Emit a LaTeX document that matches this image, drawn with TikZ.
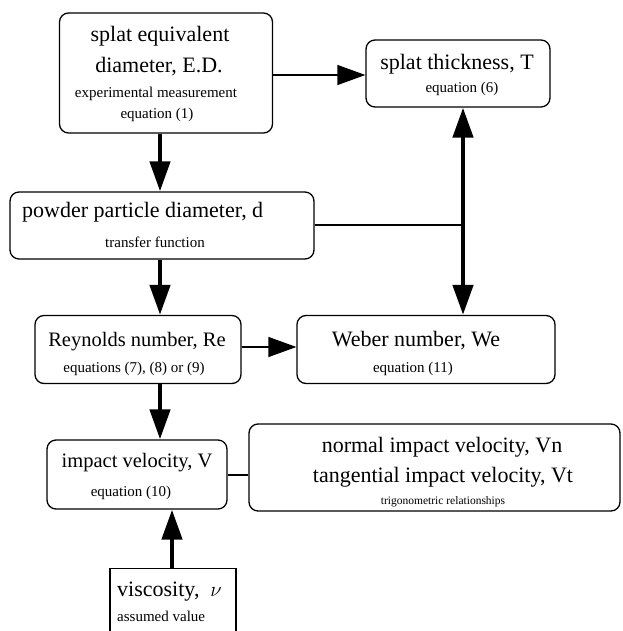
\documentclass[tikz,border=0pt]{standalone}
\usepackage{fontspec}
\setmainfont{Liberation Serif}
\usetikzlibrary{arrows.meta}
\begin{document}
\begin{tikzpicture}[x=1pt,y=1pt,
  box/.style={draw,line width=1.3pt,rounded corners=9pt,inner sep=0pt},
  sqbox/.style={draw,line width=1.3pt,inner sep=0pt},
  big/.style={anchor=base,inner sep=0pt,font=\fontsize{22}{26}\selectfont},
  mid/.style={anchor=base,inner sep=0pt,font=\fontsize{20.5}{24}\selectfont},
  small/.style={anchor=base,inner sep=0pt,font=\fontsize{15}{18}\selectfont},
  tiny/.style={anchor=base,inner sep=0pt,font=\fontsize{11.5}{14}\selectfont},
  thick arrow/.style={line width=4.5pt,-{Triangle[length=30pt,width=20pt]}},
  thick both/.style={line width=4.5pt,{Triangle[length=30pt,width=20pt]}-{Triangle[length=30pt,width=20pt]}},
  thin arrow/.style={line width=1.4pt,-{Triangle[length=28pt,width=20pt]}},
  thin line/.style={line width=1.4pt}]
\useasboundingbox (0,0) rectangle (622,-631);
\begin{scope}
\clip (0,0) rectangle (622,-631);
% boxes
\node[box,minimum width=213pt,minimum height=120pt] (b1) at (166,-73) {};
\node[box,minimum width=184pt,minimum height=67pt] (b2) at (458,-73.5) {};
\node[box,minimum width=304pt,minimum height=67pt] (b3) at (162,-225.5) {};
\node[box,minimum width=206pt,minimum height=68pt] (b4) at (138,-349.5) {};
\node[box,minimum width=258pt,minimum height=68pt] (b5) at (426,-349.5) {};
\node[box,minimum width=180pt,minimum height=69pt] (b6) at (137,-474.5) {};
\node[box,minimum width=371pt,minimum height=87pt] (b7) at (434.5,-467.5) {};
\node[sqbox,minimum width=126pt,minimum height=80pt,anchor=north] (b8) at (173,-568) {};
% texts
\node[big] (b1a) at (160,-42) {splat equivalent};
\node[big] (b1b) at (159,-73) {diameter, E.D.};
\node[small] (b1c) at (156,-98) {experimental measurement};
\node[small] (b1d) at (157,-119) {equation (1)};
\node[big] (b2a) at (457,-70) {splat thickness, T};
\node[small] (b2b) at (462,-93) {equation (6)};
\node[big,anchor=base west] (b3a) at (22,-217) {powder particle diameter, d};
\node[small] (b3b) at (155,-247) {transfer function};
\node[mid] (b4a) at (137,-346) {Reynolds number, Re};
\node[small] (b4b) at (134,-372) {equations (7), (8) or (9)};
\node[big] (b5a) at (416,-346) {Weber number, We};
\node[small] (b5b) at (413,-372) {equation (11)};
\node[mid] (b6a) at (137,-467) {impact velocity, V};
\node[small] (b6b) at (131,-496) {equation (10)};
\node[big] (b7a) at (442,-452) {normal impact velocity, Vn};
\node[big] (b7b) at (443,-482) {tangential impact velocity, Vt};
\node[tiny] (b7c) at (443,-504) {trigonometric relationships};
\node[big,anchor=base west] (b8a) at (117,-596) {viscosity,\enspace $\nu$};
\node[small,anchor=base west] (b8b) at (117,-621) {assumed value};
\end{scope}
\coordinate (cA) at (160,0);
\coordinate (cB) at (463,0);
\coordinate (cC) at (172,0);
\coordinate (r1) at (0,-75);
\coordinate (r3) at (0,-225);
\coordinate (r4) at (0,-347);
\coordinate (r6) at (0,-475);
\draw[thin arrow] (b1.east |- r1) -- (b2.west |- r1);
\draw[thick arrow] (b1.south -| cA) -- (b3.north -| cA);
\draw[thick arrow] (b3.south -| cA) -- (b4.north -| cA);
\draw[thick arrow] (b4.south -| cA) -- (b6.north -| cA);
\draw[thick both] (b2.south -| cB) -- (b5.north -| cB);
\draw[thin line] (b3.east |- r3) -- (cB |- r3);
\draw[thin arrow] (b4.east |- r4) -- (b5.west |- r4);
\draw[thin line] (b6.east |- r6) -- (b7.west |- r6);
\draw[thick arrow] (b8.north -| cC) -- (b6.south -| cC);
\end{tikzpicture}
\end{document}
